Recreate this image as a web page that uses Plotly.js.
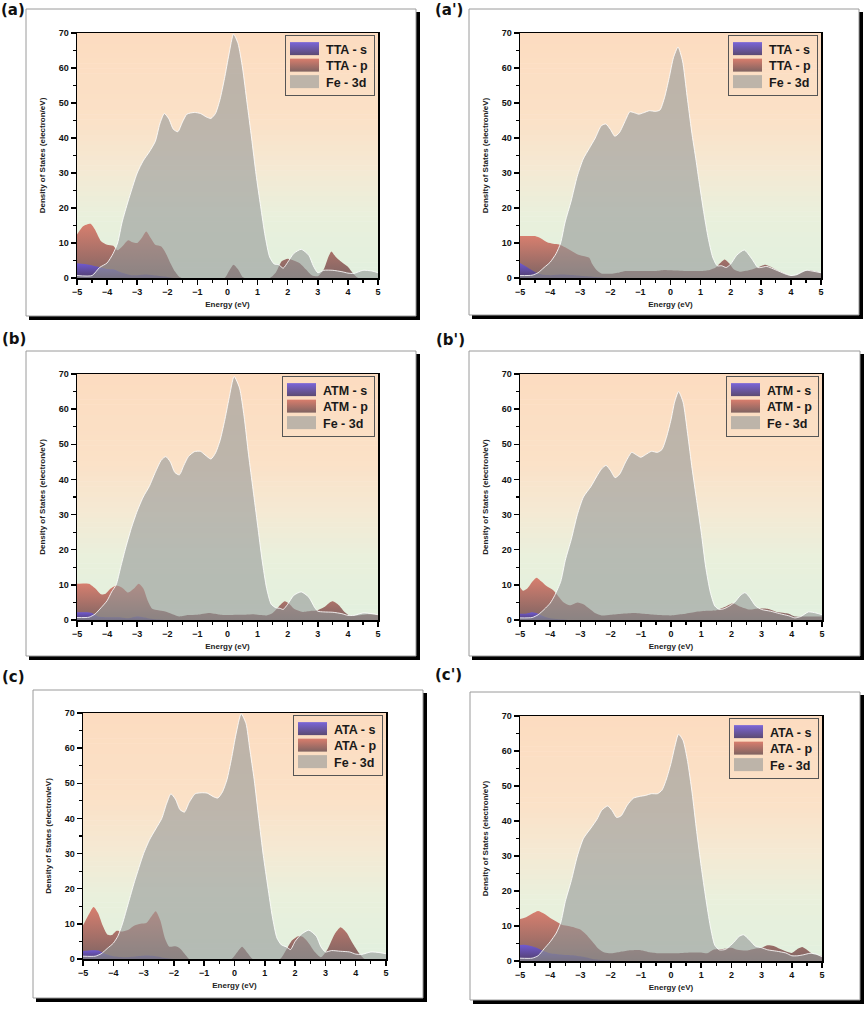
<!DOCTYPE html>
<html><head><meta charset="utf-8">
<script src="https://cdn.plot.ly/plotly-3.0.1.min.js"></script>
<style>html,body{margin:0;padding:0;background:#fff;}#chart{width:868px;height:1011px;}</style>
</head><body><div id="chart"></div>
<script>
// ---------- DATA (Energy in eV, DOS in electron/eV) ----------
// Panel (a) TTA
const aSX = [-5,-4.6,-4.2,-4,-3.8,-3.5,-3.2,-3,-2.7,-2.4,-2,-1.8,5];
const aSY = [4.2,3.8,3,2.6,2.5,1.5,0.8,0.8,1,0.7,0.3,0,0];
const aPX = [-5,-4.8,-4.55,-4.4,-4.2,-4,-3.8,-3.65,-3.5,-3.3,-3.15,-3,-2.85,-2.7,-2.55,-2.4,-2.2,-2.05,-1.9,-1.75,-1.6,-1.5,-0.1,0.05,0.2,0.35,0.5,0.6,1.4,1.6,1.8,2,2.2,2.4,2.6,2.8,3,3.2,3.35,3.45,3.6,3.8,4,4.2,4.35,5];
const aPY = [12.4,14.8,15.5,13.8,10.5,9.5,9.2,7.9,9,10.8,10.2,10,11.4,13.3,11.4,9.5,9,7.1,4.3,1.9,0.3,0,0,2,3.8,2.5,0.3,0,0,1.5,4.8,5.5,5,4.2,2.5,0.8,0.5,2.5,6,7.6,6,4.5,3.2,1,0,0];
const aFeX = [-5,-4.5,-4.25,-4,-3.8,-3.65,-3.5,-3.3,-3,-2.8,-2.6,-2.4,-2.25,-2.1,-1.95,-1.8,-1.65,-1.5,-1.35,-1.1,-0.9,-0.7,-0.55,-0.4,-0.25,-0.1,0.05,0.2,0.35,0.5,0.65,0.8,0.95,1.1,1.25,1.4,1.55,1.7,1.85,2,2.2,2.45,2.7,2.85,3,3.2,3.5,3.8,4,4.2,4.5,4.8,5];
const aFeY = [0.7,0.7,3,4.3,7,10,16,22,30,33.5,36,39,44,47,45.5,42.5,41.8,44.5,46.8,47.3,47,46,45.6,47,51,57,64,69.7,67,60,50,40,29.5,20.5,12,6,4,3.8,2.8,4.5,7,8.2,6.5,3.5,1.5,2.2,2.2,1.8,1.4,1.3,2.2,2,1.5];

// Panel (a') TTA
const apSX = [-5,-4.8,-4.6,-4.4,-4.2,-4,-3.6,-3.2,-2.8,-2.5,-2.2,-2,5];
const apSY = [4.3,3.3,2.2,1.3,0.9,0.8,1,0.8,0.5,0.3,0.1,0,0];
const apPX = [-5,-4.7,-4.5,-4.3,-4.1,-3.9,-3.7,-3.5,-3.3,-3.1,-2.9,-2.7,-2.6,-2.45,-2.3,-2,-1.7,-1.5,-1,-0.5,-0.2,0,0.5,1,1.3,1.5,1.65,1.8,1.95,2.1,2.3,2.6,2.9,3.15,3.3,3.6,3.85,4,4.2,4.4,4.6,4.8,5];
const apPY = [12,12,12,11.3,10.2,9.8,9.6,8.8,7.8,6.8,6.3,5.8,4,2.2,1.3,1.2,1.6,2,2,2,2.3,2.2,2,2,2.3,3,4.3,5.3,4.2,2.5,1.8,2.2,3,3.8,3.3,2,1,0.6,0.8,1.7,2.2,1.9,1.4];
const apFeX = [-5,-4.6,-4.4,-4.2,-4,-3.8,-3.65,-3.5,-3.3,-3.1,-2.9,-2.7,-2.5,-2.3,-2.15,-2,-1.85,-1.7,-1.5,-1.35,-1.2,-1.05,-0.9,-0.7,-0.5,-0.35,-0.2,-0.05,0.1,0.25,0.4,0.55,0.7,0.85,0.95,1.1,1.25,1.4,1.55,1.7,1.85,2,2.2,2.45,2.7,2.9,3,3.2,3.5,3.8,4,4.2,4.5,4.7,5];
const apFeY = [0.7,0.8,1.5,3,4.5,7,10,16,22,29,34,37,40,43.5,44,42.5,40.5,41.5,45,47.5,47.2,46.8,47.2,47.8,47.6,48,51.5,57,63,66,62,52,42,33.5,27.5,19,11.5,6,3.5,3.5,3,4,6.5,8,5.5,3,3,3.3,2.3,1.2,0.7,1,2.2,2,1.5];

// Panel (b) ATM
const bSX = [-5,-4.7,-4.5,-4.3,-4,-3.6,-3.3,-3,-2.8,-2.5,-2.2,-2,5];
const bSY = [2.2,2.2,2,1,0.8,0.8,0.5,1,0.8,0.3,0.1,0,0];
const bPX = [-5,-4.8,-4.6,-4.4,-4.2,-4.05,-3.9,-3.7,-3.5,-3.3,-3.1,-2.95,-2.8,-2.65,-2.5,-2.3,-2.1,-1.8,-1.6,-1.3,-1,-0.6,-0.3,0,0.3,0.6,0.9,1.1,1.3,1.5,1.7,1.9,2.05,2.2,2.5,2.8,3,3.2,3.4,3.5,3.7,3.9,4.05,4.3,4.6,5];
const bPY = [10.3,10.4,10.3,9,7.3,7.5,8.8,9.8,9.2,7.8,9,10.3,9,5.5,3.2,2.8,2.5,1.6,1,1.4,1.5,2,1.6,1.4,1.5,1.5,1.6,1.4,1.3,2,3.8,5.3,4.6,3.3,2.3,2.6,2.8,3.6,5,5.3,4.2,2.2,1.3,1.3,1.6,1.5];
const bFeX = [-5,-4.6,-4.4,-4.2,-4,-3.85,-3.7,-3.55,-3.4,-3.2,-3,-2.8,-2.6,-2.4,-2.2,-2.05,-1.9,-1.75,-1.6,-1.45,-1.3,-1.1,-0.9,-0.75,-0.55,-0.4,-0.25,-0.1,0.05,0.22,0.4,0.55,0.7,0.85,1,1.15,1.3,1.45,1.6,1.75,1.85,2,2.2,2.45,2.7,2.9,3,3.2,3.5,3.8,4,4.2,4.5,4.8,5];
const bFeY = [0.7,0.8,1.7,3.5,5.5,8,10,15,20,26,31,35,38,42,45.5,46.5,45,42,41.3,44,46.5,47.9,48,47,45.8,47.5,51,56.5,63,69.3,66,58,47,37,27,17,9,4.5,3.5,3.3,3,4.5,7,8,6.5,3.5,2.5,2.3,2.2,1.8,1.3,1.3,2,1.8,1.5];

// Panel (b') ATM
const bpSX = [-5,-4.8,-4.6,-4.4,-4.2,-4,-3.7,-3.4,5];
const bpSY = [1.8,1.8,2.2,1.8,1,0.5,0.2,0,0];
const bpPX = [-5,-4.9,-4.75,-4.6,-4.45,-4.3,-4.1,-3.9,-3.75,-3.55,-3.35,-3.1,-2.9,-2.7,-2.5,-2.3,-2,-1.6,-1.2,-0.8,-0.4,0,0.4,0.8,1.2,1.5,1.8,2.05,2.3,2.6,2.9,3.2,3.5,3.75,3.9,4.1,4.4,4.7,5];
const bpPY = [9.3,8.3,9,10.8,12,11,9.5,8.5,7,5,4.2,5,4.5,3.2,1.9,1.3,1.5,1.8,2,1.7,1.4,1.3,1.7,2.3,2.6,2.8,3.8,4.8,3.8,3,3.3,3.2,2.3,2,1.8,1,1,1,1];
const bpFeX = [-5,-4.6,-4.4,-4.2,-4,-3.85,-3.65,-3.5,-3.3,-3.1,-2.9,-2.65,-2.45,-2.3,-2.15,-2,-1.85,-1.7,-1.5,-1.3,-1.15,-1,-0.85,-0.65,-0.45,-0.3,-0.15,0,0.12,0.25,0.4,0.55,0.7,0.85,1,1.15,1.3,1.45,1.6,1.75,1.9,2.1,2.3,2.45,2.6,2.8,3,3.3,3.6,3.9,4.1,4.3,4.55,4.8,5];
const bpFeY = [0.6,0.7,1.5,3,4.8,7,11,17,23,30,35,38,41,43,44,42.5,40.5,41.5,45,47.7,47,46.3,47,48,47.7,48.5,52,57,62,65,62,53,43,34,25,15,8,4,3,3.2,3.8,5,7,7.8,6.5,4,3,2.5,1.8,1.2,0.6,1,2.3,2,1.5];

// Panel (c) ATA
const cSX = [-5,-4.7,-4.5,-4.3,-4,-3.6,-3.2,-2.9,-2.6,-2.3,-2,5];
const cSY = [2.3,2.5,2.4,1.6,0.8,0.5,0.8,1,0.8,0.3,0,0];
const cPX = [-5,-4.85,-4.65,-4.5,-4.35,-4.2,-4.05,-3.9,-3.7,-3.5,-3.3,-3.1,-2.9,-2.75,-2.6,-2.45,-2.3,-2.15,-1.95,-1.8,-1.6,-1.5,-0.1,0.05,0.25,0.45,0.6,1.5,1.7,1.9,2.1,2.25,2.45,2.65,2.85,3.05,3.3,3.5,3.7,3.9,4.1,4.3,5];
const cPY = [9.5,12,14.8,13,9.5,7,6.8,8,7.8,8.3,9.5,10,10.3,12,13.6,11,6,3.5,3.6,3,1,0,0,1.5,3.5,1.5,0,0,2.5,5.3,6.5,6.3,4.5,2,0.5,2.5,7,9,7.5,4.5,1.8,0,0];
const cFeX = [-5,-4.6,-4.4,-4.2,-4,-3.85,-3.7,-3.5,-3.3,-3,-2.8,-2.6,-2.4,-2.25,-2.1,-1.95,-1.8,-1.65,-1.5,-1.3,-1.1,-0.9,-0.7,-0.55,-0.4,-0.25,-0.1,0.05,0.22,0.38,0.5,0.65,0.8,0.95,1.1,1.25,1.4,1.55,1.7,1.85,2,2.2,2.45,2.7,2.85,3,3.2,3.5,3.8,4,4.2,4.5,4.8,5];
const cFeY = [0.8,0.8,1.5,3,4.5,6.5,10,16,22,30,34,37,40,44,47,45.5,42.5,41.8,44.5,47,47.3,47.2,46.2,45.8,47.5,51,57,64,69.8,67,60,51,40,29.5,20.5,12,6,4,3.5,2.7,5,7,8.2,6.5,3.5,2,2.4,2.2,2,1.4,1.3,2,1.8,1.5];

// Panel (c') ATA
const cpSX = [-5,-4.8,-4.6,-4.4,-4.2,-4,-3.6,-3.2,-2.9,-2.6,-2.3,-2,-1.8,5];
const cpSY = [4.6,4.6,4.2,3.6,2.8,2.2,1.8,1.6,1.2,0.6,0.3,0.2,0,0];
const cpPX = [-5,-4.8,-4.6,-4.4,-4.2,-4,-3.8,-3.6,-3.4,-3.2,-3,-2.8,-2.6,-2.4,-2.2,-2,-1.7,-1.4,-1,-0.7,-0.4,0,0.4,0.7,1,1.2,1.4,1.7,2,2.2,2.5,2.8,3,3.2,3.4,3.6,3.8,4,4.2,4.35,4.5,4.7,5];
const cpPY = [12,12.5,13.5,14.3,13.5,12.3,11.3,10.3,10,9.6,9,7.5,5.5,3.5,2.4,2.2,2.6,3,3.1,2.5,2.2,2.2,2.3,2.4,2.4,2.2,3.2,3.4,3.8,3.2,3,3.6,3.8,4.5,4.3,3.5,2.8,2.3,3.5,4,3.2,2,1.4];
const cpFeX = [-5,-4.6,-4.4,-4.2,-4,-3.8,-3.65,-3.5,-3.3,-3.1,-2.9,-2.65,-2.45,-2.3,-2.1,-1.95,-1.8,-1.65,-1.45,-1.25,-1.05,-0.85,-0.65,-0.45,-0.3,-0.15,0,0.12,0.25,0.4,0.55,0.7,0.85,1,1.15,1.3,1.45,1.6,1.8,1.95,2.1,2.25,2.4,2.6,2.8,3,3.2,3.5,3.8,4,4.2,4.4,4.6,4.8,5];
const cpFeY = [0.8,0.8,1.5,3.5,5.5,8,11,17,23,30,35,38,40.5,43,44.3,43,41,41.5,44.5,46.5,47,47.3,47.8,47.8,48.8,52,56.5,61,64.8,63,57,48,37,27,18,10,4.5,3.2,3.3,4.3,5.5,7,7.5,6,4.2,3.8,3.2,2.8,2.3,1.5,1.5,1.8,2.2,2,1.2];

// Labels
const panelLabels = ["(a)", "(a')", "(b)", "(b')", "(c)", "(c')"];
const molecules = ["TTA", "TTA", "ATM", "ATM", "ATA", "ATA"];
const xTitle = "Energy (eV)";
const yTitle = "Density of States (electron/eV)";

// ---------- LAYOUT (pixels) ----------
const W = 868, H = 1011;
const panels = [
  {lab:[0,0,'top'],     frame:[26,9,416,316],   plot:[77,33,378,278],  s:[aSX,aSY],  p:[aPX,aPY],  fe:[aFeX,aFeY]},
  {lab:[434,0,'top'],   frame:[469,9,859,315],  plot:[520,33,821,278], s:[apSX,apSY], p:[apPX,apPY], fe:[apFeX,apFeY]},
  {lab:[1,339,'middle'],frame:[26,351,416,656], plot:[77,374,378,620], s:[bSX,bSY],  p:[bPX,bPY],  fe:[bFeX,bFeY]},
  {lab:[435,340,'middle'],frame:[469,351,860,656],plot:[520,374,822,620],s:[bpSX,bpSY], p:[bpPX,bpPY], fe:[bpFeX,bpFeY]},
  {lab:[1,677,'middle'],frame:[33,690,423,998], plot:[83,713,386,959], s:[cSX,cSY],  p:[cPX,cPY],  fe:[cFeX,cFeY]},
  {lab:[434,675,'middle'],frame:[470,692,860,1000],plot:[520,716,822,961],s:[cpSX,cpSY],p:[cpPX,cpPY],fe:[cpFeX,cpFeY]}
];
const px = v => v / W;
const py = v => 1 - v / H;

const bgStops = [[0,[226,240,222]],[0.25,[233,240,220]],[0.45,[245,233,211]],[0.65,[251,225,199]],[1,[252,220,192]]];
function bgColor(t){
  for(let i=0;i<bgStops.length-1;i++){
    const [t0,c0]=bgStops[i],[t1,c1]=bgStops[i+1];
    if(t>=t0&&t<=t1){const f=(t-t0)/(t1-t0);
      return 'rgb('+c0.map((c,k)=>Math.round(c+(c1[k]-c)*f)).join(',')+')';}
  }
  return 'rgb(252,220,192)';
}

const FONT = 'Arial, "Liberation Sans", sans-serif';
const data = [];
const layout = {
  width: W, height: H, margin:{l:0,r:0,t:0,b:0},
  paper_bgcolor:'#ffffff', plot_bgcolor:'rgba(0,0,0,0)',
  showlegend:true, shapes:[], annotations:[], hovermode:false
};
const shadowShapes = [], frameShapes = [], bandShapes = [];

panels.forEach((pn, i) => {
  const k = i === 0 ? '' : String(i+1);
  const xa = 'x'+k, ya = 'y'+k;
  const lg = 'legend'+k;
  const [L,T,R,B] = pn.plot;
  const mol = molecules[i];
  const maxS = Math.max(...pn.s[1]), maxP = Math.max(...pn.p[1]);
  // p first (bottom), then s, then Fe-3d on top; legend order via legendrank
  data.push({
    type:'scatter', mode:'lines', x:pn.p[0], y:pn.p[1], xaxis:xa, yaxis:ya, legend:lg, legendrank:2,
    name: mol+' - p', fill:'tozeroy', line:{shape:'spline', smoothing:0.6, width:0, color:'rgba(180,100,90,0)'},
    fillgradient:{type:'vertical', start:0, stop:maxP,
      colorscale:[[0,'rgba(118,90,90,0.93)'],[1,'rgba(214,118,102,0.93)']]}
  });
  data.push({
    type:'scatter', mode:'lines', x:pn.s[0], y:pn.s[1], xaxis:xa, yaxis:ya, legend:lg, legendrank:1,
    name: mol+' - s', fill:'tozeroy', line:{shape:'spline', smoothing:0.6, width:0, color:'rgba(90,70,160,0)'},
    fillgradient:{type:'vertical', start:0, stop:maxS,
      colorscale:[[0,'rgba(75,58,105,0.9)'],[1,'rgba(108,88,220,0.9)']]}
  });
  data.push({
    type:'scatter', mode:'lines', x:pn.fe[0], y:pn.fe[1], xaxis:xa, yaxis:ya, legend:lg, legendrank:3,
    name:'Fe - 3d', fill:'tozeroy', fillcolor:'rgba(148,152,152,0.6)',
    line:{shape:'spline', smoothing:0.6, width:1, color:'rgba(255,255,255,0.85)'}
  });

  layout['xaxis'+k] = {
    domain:[px(L), px(R)], anchor:ya, range:[-5,5], dtick:1, tick0:-5,
    ticks:'outside', ticklen:5, tickwidth:1.5, tickcolor:'#000',
    showline:true, mirror:true, linecolor:'#000', linewidth:1.5,
    showgrid:false, zeroline:false, fixedrange:true,
    tickfont:{family:FONT, size:9, weight:'bold', color:'#111'},
    title:{text:xTitle, font:{family:FONT, size:8, weight:'bold', color:'#222'}, standoff:5},
    minor:{dtick:0.5, ticks:'outside', ticklen:3, tickwidth:1.2, tickcolor:'#000', showgrid:false}
  };
  layout['yaxis'+k] = {
    domain:[py(B), py(T)], anchor:xa, range:[0,70], dtick:10,
    ticks:'outside', ticklen:5, tickwidth:1.5, tickcolor:'#000',
    showline:true, mirror:true, linecolor:'#000', linewidth:1.5,
    showgrid:false, zeroline:false, fixedrange:true,
    tickfont:{family:FONT, size:9, weight:'bold', color:'#111'},
    title:{text:yTitle, font:{family:FONT, size:8, weight:'bold', color:'#222'}, standoff:12},
    minor:{dtick:5, ticks:'outside', ticklen:3, tickwidth:1.2, tickcolor:'#000', showgrid:false}
  };
  layout[lg] = {
    x:px(R-3), xanchor:'right', y:py(T+2), yanchor:'top',
    bgcolor:'rgba(0,0,0,0)', bordercolor:'#555', borderwidth:1,
    font:{family:FONT, size:12.5, weight:'bold', color:'#1a1a1a'},
    itemwidth:30, tracegroupgap:0, itemclick:false, itemdoubleclick:false
  };

  const [fL,fT,fR,fB] = pn.frame;
  shadowShapes.push({type:'rect', xref:'paper', yref:'paper', layer:'below',
    x0:px(fL+3), x1:px(fR+4), y0:py(fB+4), y1:py(fT+3), fillcolor:'#000', line:{width:0}});
  frameShapes.push({type:'rect', xref:'paper', yref:'paper', layer:'below',
    x0:px(fL), x1:px(fR), y0:py(fB), y1:py(fT), fillcolor:'#fff', line:{color:'#9a9a9a', width:1}});
  const N = 48;
  for(let j=0;j<N;j++){
    bandShapes.push({type:'rect', xref:xa+' domain', yref:ya+' domain', layer:'below',
      x0:0, x1:1, y0:j/N, y1:(j+1)/N + 0.002, fillcolor:bgColor((j+0.5)/N), line:{width:0}});
  }
  layout.annotations.push({xref:'paper', yref:'paper', x:px(pn.lab[0]), y:py(pn.lab[1]),
    xanchor:'left', yanchor:pn.lab[2], showarrow:false, text:panelLabels[i], borderpad:0,
    font:{family:'"DejaVu Sans", Verdana, sans-serif', size:15, weight:'bold', color:'#111'}});
});
layout.shapes = shadowShapes.concat(frameShapes, bandShapes);

Plotly.newPlot('chart', data, layout, {staticPlot:true, displayModeBar:false}).then(gd => {
  // boxy legend swatches and tighter rows, as in the original figure
  gd.querySelectorAll('.infolayer g.traces').forEach(tr => {
    tr.querySelectorAll('.js-fill').forEach(f => f.setAttribute('d', 'M4,-6.5h29v13h-29z'));
    tr.querySelectorAll('.js-line').forEach(l => { l.setAttribute('d', 'M4,-6.5h29'); l.style.opacity = '0'; });
  });
  gd.querySelectorAll('.infolayer > g').forEach(lg => {
    try {
      const trs = Array.from(lg.querySelectorAll('g.traces'));
      if (trs.length < 2) return;
      const pos = trs.map(t => {
        const m = /translate\(\s*([-\d.e]+)[ ,]+([-\d.e]+)\s*\)/.exec(t.getAttribute('transform') || '');
        return m ? [parseFloat(m[1]), parseFloat(m[2])] : null;
      });
      if (pos.some(v => !v)) return;
      pos.sort((a, b) => a[1] - b[1]);
      const order = trs.slice().sort((a, b) => {
        const ya = parseFloat(/,\s*([-\d.e]+)\)/.exec(a.getAttribute('transform'))[1]);
        const yb = parseFloat(/,\s*([-\d.e]+)\)/.exec(b.getAttribute('transform'))[1]);
        return ya - yb;
      });
      const oldStep = pos[1][1] - pos[0][1];
      const step = 16.5, shift = 2;
      order.forEach((t, i) => t.setAttribute('transform', 'translate(' + pos[i][0] + ',' + (pos[0][1] - shift + i * step) + ')'));
      const bg = lg.querySelector('rect.bg');
      if (bg) {
        const h = parseFloat(bg.getAttribute('height'));
        bg.setAttribute('height', h - (oldStep - step) * (trs.length - 1) - 2 * shift);
      }
    } catch (e) {}
  });
});
</script></body></html>
